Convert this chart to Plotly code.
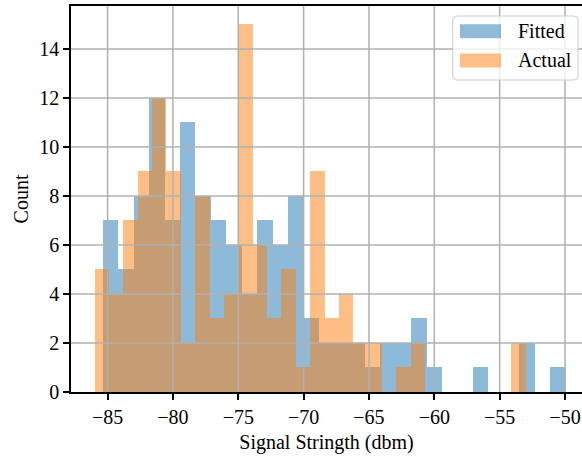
import plotly.graph_objects as go

# ---- data (histogram counts) ----
fitted_counts = [7, 5, 8, 12, 7, 11, 8, 7, 6, 4,
                 7, 6, 8, 3, 2, 2, 2, 1, 2, 2,
                 3, 1, 0, 0, 1, 0, 0, 2, 0, 1]
actual_counts = [5, 4, 7, 9, 12, 9, 2, 8, 3, 4,
                 15, 6, 3, 5, 1, 9, 3, 4, 2, 2,
                 0, 1, 2, 0, 0, 0, 0, 0, 0, 2]
fitted_range = (-85.36, -49.96)
actual_range = (-86.0, -53.0)
series_names = ["Fitted", "Actual"]
x_ticks = [-85, -80, -75, -70, -65, -60, -55, -50]
y_ticks = [0, 2, 4, 6, 8, 10, 12, 14]
x_title = "Signal Stringth (dbm)"
y_title = "Count"

BLUE = "#1f77b4"
ORANGE = "#ff7f0e"
FONT = "Liberation Serif"
FS = 20
GRID = "#b0b0b0"


def bins(lo_hi, counts):
    lo, hi = lo_hi
    n = len(counts)
    w = (hi - lo) / n
    centers = [lo + (i + 0.5) * w for i in range(n)]
    return centers, w


fx, fw = bins(fitted_range, fitted_counts)
ax_, aw = bins(actual_range, actual_counts)

fig = go.Figure()
fig.add_trace(go.Bar(x=fx, y=fitted_counts, width=fw, name=series_names[0],
                     marker=dict(color=BLUE, line=dict(width=0)), opacity=0.5))
fig.add_trace(go.Bar(x=ax_, y=actual_counts, width=aw, name=series_names[1],
                     marker=dict(color=ORANGE, line=dict(width=0)), opacity=0.5))

W, H = 582, 457
L, R, T, B = 71, 0, 6, 65
pw, ph = W - L - R, H - T - B

fig.update_layout(
    width=W, height=H,
    margin=dict(l=L, r=R, t=T, b=B),
    plot_bgcolor="white", paper_bgcolor="white",
    barmode="overlay", bargap=0, showlegend=False,
    font=dict(family=FONT, size=FS, color="black"),
)
fig.update_xaxes(
    range=[-87.80, -48.70], tickvals=x_ticks, showgrid=False, zeroline=False,
    showline=True, linecolor="black", linewidth=1.5, mirror=True,
    ticks="outside", ticklen=6, tickwidth=1.5, tickcolor="black",
    tickfont=dict(family=FONT, size=FS),
    title=dict(text=x_title, font=dict(family=FONT, size=FS), standoff=8),
)
fig.update_yaxes(
    range=[0, 15.75], tickvals=y_ticks, showgrid=False, zeroline=False,
    showline=True, linecolor="black", linewidth=1.5,
    ticks="outside", ticklen=6, tickwidth=1.5, tickcolor="black",
    tickfont=dict(family=FONT, size=FS),
    title=dict(text=y_title, font=dict(family=FONT, size=FS), standoff=5),
)

# grid lines above bars (matplotlib style)
for xv in x_ticks:
    fig.add_shape(type="line", xref="x", yref="paper", x0=xv, x1=xv, y0=0, y1=1,
                  line=dict(color=GRID, width=1.5), layer="above")
for yv in y_ticks[1:]:
    fig.add_shape(type="line", xref="paper", yref="y", x0=0, x1=1, y0=yv, y1=yv,
                  line=dict(color=GRID, width=1.5), layer="above")


def px2x(px):
    return (px - L) / pw


def py2y(py):
    return (T + ph - py) / ph


# legend box (rounded)
bx0, bx1, by0, by1, r = 452.7, 578.0, 16.0, 80.0, 4.0
path = (f"M{px2x(bx0 + r)},{py2y(by0)} L{px2x(bx1 - r)},{py2y(by0)} "
        f"Q{px2x(bx1)},{py2y(by0)} {px2x(bx1)},{py2y(by0 + r)} "
        f"L{px2x(bx1)},{py2y(by1 - r)} Q{px2x(bx1)},{py2y(by1)} {px2x(bx1 - r)},{py2y(by1)} "
        f"L{px2x(bx0 + r)},{py2y(by1)} Q{px2x(bx0)},{py2y(by1)} {px2x(bx0)},{py2y(by1 - r)} "
        f"L{px2x(bx0)},{py2y(by0 + r)} Q{px2x(bx0)},{py2y(by0)} {px2x(bx0 + r)},{py2y(by0)} Z")
fig.add_shape(type="path", xref="paper", yref="paper", path=path,
              fillcolor="rgba(255,255,255,0.8)", line=dict(color="#cccccc", width=1),
              layer="above")
for (name, col, py0, py1) in [(series_names[0], BLUE, 24.3, 38.3),
                              (series_names[1], ORANGE, 53.5, 67.5)]:
    fig.add_shape(type="rect", xref="paper", yref="paper",
                  x0=px2x(460), x1=px2x(501), y0=py2y(py1), y1=py2y(py0),
                  fillcolor=col, opacity=0.5, line=dict(width=0), layer="above")
    fig.add_annotation(xref="paper", yref="paper", x=px2x(516), y=py2y((py0 + py1) / 2),
                       text=name, showarrow=False, xanchor="left", yanchor="middle",
                       font=dict(family=FONT, size=FS, color="black"))

fig.write_html("out.html")
